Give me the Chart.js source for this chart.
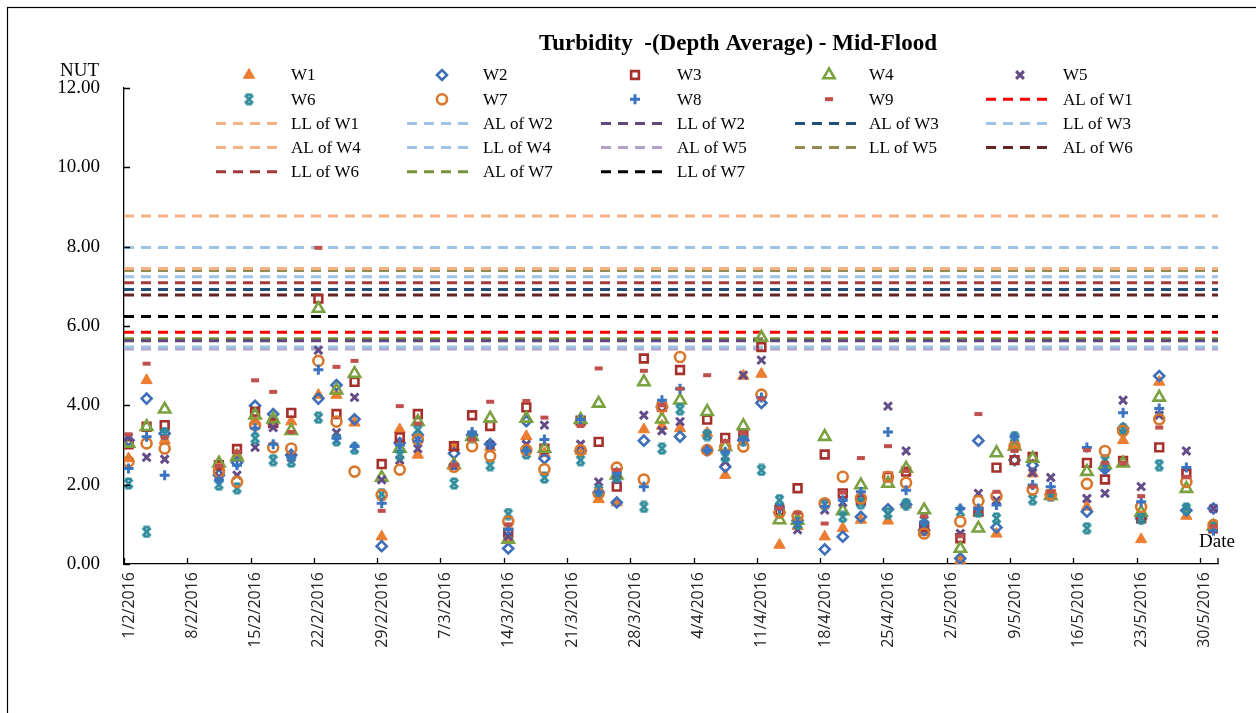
<!DOCTYPE html>
<html>
<head>
<meta charset="utf-8">
<title>Turbidity - Mid-Flood</title>
<script src="https://cdn.jsdelivr.net/npm/chart.js@4/dist/chart.umd.min.js"></script>
<style>
  html, body { margin: 0; padding: 0; background: #fff; }
  #chart { display: block; }
</style>
</head>
<body>
<canvas id="chart" width="1256" height="713"></canvas>
<script>
// sampling dates (d/m/yyyy) and the weekly axis labels
const sampleDates = [
  "1/2/2016", "3/2/2016", "5/2/2016", "11/2/2016", "13/2/2016", "15/2/2016", "17/2/2016", "19/2/2016",
  "22/2/2016", "24/2/2016", "26/2/2016", "29/2/2016", "2/3/2016", "4/3/2016", "8/3/2016", "10/3/2016",
  "12/3/2016", "14/3/2016", "16/3/2016", "18/3/2016", "22/3/2016", "24/3/2016", "26/3/2016", "29/3/2016",
  "31/3/2016", "2/4/2016", "5/4/2016", "7/4/2016", "9/4/2016", "11/4/2016", "13/4/2016", "15/4/2016",
  "18/4/2016", "20/4/2016", "22/4/2016", "25/4/2016", "27/4/2016", "29/4/2016", "3/5/2016", "5/5/2016",
  "7/5/2016", "9/5/2016", "11/5/2016", "13/5/2016", "17/5/2016", "19/5/2016", "21/5/2016", "23/5/2016",
  "25/5/2016", "28/5/2016", "31/5/2016"
];
const tickLabels = [
  "1/2/2016", "8/2/2016", "15/2/2016", "22/2/2016", "29/2/2016", "7/3/2016", "14/3/2016", "21/3/2016",
  "28/3/2016", "4/4/2016", "11/4/2016", "18/4/2016", "25/4/2016", "2/5/2016", "9/5/2016", "16/5/2016",
  "23/5/2016", "30/5/2016"
];
const axisEndDate = "1/6/2016";
const yTicks = [0, 2, 4, 6, 8, 10, 12];

// turbidity (NTU), one value per sampling date
const w1 = [2.66, 4.63, 3.12, 2.45, 2.75, 3.59, 3.59, 3.59, 4.26, 4.26, 3.56, 0.69, 3.39, 2.75, 2.95, 3.20, 2.94, 0.65, 3.22, 2.79, 2.85, 1.63, 1.55, 3.39, 3.48, 3.42, 3.30, 2.24, 4.74, 4.79, 0.48, 0.95, 0.69, 0.90, 1.11, 1.09, 1.50, 0.80, 0.10, 1.30, 0.76, 2.95, 2.28, 1.72, 1.44, 2.45, 3.12, 0.62, 4.59, 1.21, 0.95];
const w2 = [3.12, 4.17, 3.29, 2.24, 2.56, 3.99, 3.78, 2.75, 4.17, 4.51, 3.65, 0.45, 3.05, 3.25, 2.79, 3.25, 3.02, 0.39, 3.60, 2.66, 2.85, 1.80, 1.55, 3.11, 3.96, 3.21, 2.87, 2.45, 3.12, 4.06, 1.30, 1.10, 0.37, 0.69, 1.19, 1.38, 1.50, 0.85, 0.14, 3.11, 0.92, 2.62, 2.49, 1.75, 1.32, 2.40, 3.42, 1.15, 4.74, 1.35, 1.40];
const w3 = [3.02, 3.46, 3.50, 2.49, 2.90, 3.84, 3.55, 3.81, 6.69, 3.78, 4.59, 2.52, 3.19, 3.78, 2.97, 3.75, 3.48, 0.79, 3.95, 2.91, 3.61, 3.08, 1.95, 5.18, 3.96, 4.89, 3.64, 3.18, 3.27, 5.47, 1.36, 1.91, 2.76, 1.78, 1.61, 2.20, 2.33, 0.94, 0.65, 1.32, 2.43, 2.62, 2.70, 1.75, 2.55, 2.13, 2.60, 1.15, 2.94, 2.27, 0.90];
const w4 = [3.04, 3.46, 3.90, 2.54, 2.70, 3.75, 3.65, 3.36, 6.44, 4.38, 4.80, 2.18, 2.91, 3.59, 2.50, 3.21, 3.67, 0.62, 3.67, 2.91, 3.64, 4.05, 2.24, 4.59, 3.65, 4.13, 3.84, 2.96, 3.48, 5.71, 1.11, 1.10, 3.21, 1.34, 1.99, 2.03, 2.41, 1.36, 0.39, 0.90, 2.80, 2.97, 2.66, 1.72, 2.33, 2.50, 2.54, 1.30, 4.20, 1.90, 0.95];
const w5 = [3.19, 2.69, 2.64, 2.20, 2.24, 2.94, 3.44, 2.69, 5.39, 3.31, 4.20, 2.12, 2.62, 2.91, 2.45, 3.20, 3.00, 0.70, 3.02, 3.50, 3.02, 2.07, 2.13, 3.75, 3.36, 3.59, 3.25, 2.58, 4.76, 5.14, 1.44, 0.86, 1.36, 1.55, 1.55, 3.98, 2.85, 1.00, 0.77, 1.78, 1.60, 3.15, 2.30, 2.18, 1.65, 1.78, 4.13, 1.95, 3.75, 2.85, 1.40];
const w6 = [2.03, 0.81, 3.29, 2.00, 1.91, 3.17, 2.62, 2.58, 3.69, 3.12, 2.91, 1.76, 2.75, 3.38, 2.03, 3.20, 2.49, 1.26, 2.79, 2.18, 2.62, 1.85, 2.20, 1.44, 2.91, 3.90, 3.25, 2.70, 3.12, 2.37, 1.61, 1.01, 1.50, 1.19, 1.53, 1.28, 1.51, 1.10, 1.32, 1.32, 1.15, 3.20, 1.63, 1.72, 0.90, 2.62, 3.40, 1.15, 2.49, 1.40, 0.98];
const w7 = [2.58, 3.04, 2.91, 2.33, 2.07, 3.50, 2.94, 2.91, 5.12, 3.59, 2.33, 1.74, 2.38, 3.14, 2.45, 2.97, 2.72, 1.07, 2.87, 2.39, 2.87, 1.78, 2.43, 2.13, 3.96, 5.22, 2.87, 2.96, 2.96, 4.27, 1.30, 1.21, 1.53, 2.20, 1.65, 2.20, 2.05, 0.77, 1.07, 1.59, 1.71, 2.97, 1.88, 1.75, 2.02, 2.85, 3.36, 1.44, 3.65, 2.07, 0.98];
const w8 = [2.41, 3.21, 2.24, 2.12, 2.49, 3.42, 3.02, 2.70, 4.90, 3.17, 2.96, 1.53, 3.00, 3.10, 2.50, 3.33, 3.02, 0.87, 2.85, 3.14, 3.64, 1.82, 2.30, 1.95, 4.13, 4.42, 2.87, 2.83, 3.14, 4.20, 1.40, 1.05, 1.45, 1.61, 1.82, 3.33, 1.86, 1.05, 1.40, 1.40, 1.49, 3.21, 1.99, 1.95, 2.94, 2.37, 3.81, 1.57, 3.92, 2.43, 0.84];
const w9 = [3.27, 5.05, 3.19, 2.47, 2.83, 4.63, 4.34, 3.33, 7.97, 4.97, 5.12, 1.34, 3.98, 3.54, 2.49, 3.14, 4.09, 1.00, 4.11, 3.69, 3.48, 4.93, 2.37, 4.87, 4.00, 4.42, 4.76, 3.10, 3.30, 4.17, 1.40, 1.29, 1.02, 1.80, 2.67, 2.97, 2.35, 1.20, 0.70, 3.78, 1.82, 2.85, 1.95, 1.82, 2.87, 2.55, 2.55, 1.71, 3.44, 2.20, 0.95];

// action / limit levels, in legend order
const levelNames = ["AL of W1", "LL of W1", "AL of W2", "LL of W2", "AL of W3", "LL of W3", "AL of W4",
  "LL of W4", "AL of W5", "LL of W5", "AL of W6", "LL of W6", "AL of W7", "LL of W7"];
const levelValues = [5.84, 8.77, 5.47, 5.63, 6.92, 7.24, 7.45, 7.98, 5.42, 7.40, 6.78, 7.09, 5.68, 6.24];
const levelColors = ["#FF0000", "#F4B183", "#9DC3E6", "#604A7B", "#1F4E79", "#9DC3E6", "#F4B183",
  "#9DC3E6", "#B3A2C7", "#948A54", "#632523", "#A33A3A", "#77933C", "#000000"];

const SERIF = "'Liberation Serif', 'Times New Roman', serif";
const SANS = "'Open Sans', 'Noto Sans', sans-serif";

function dayOffset(s) {
  const [d, m, y] = s.split("/").map(Number);
  return (Date.UTC(y, m - 1, d) - Date.UTC(2016, 1, 1)) / 86400000;
}
const tickDays = tickLabels.map(dayOffset);
const xMax = dayOffset(axisEndDate);

// Excel "star" style marker for W6
function starMarker(color) {
  const c = document.createElement("canvas");
  c.width = 13; c.height = 13;
  const g = c.getContext("2d");
  g.strokeStyle = color;
  g.lineWidth = 2.8;
  g.beginPath();
  g.moveTo(2.5, 2.5); g.lineTo(10.5, 10.5);
  g.moveTo(10.5, 2.5); g.lineTo(2.5, 10.5);
  g.moveTo(3.5, 1.8); g.lineTo(9.5, 1.8);
  g.moveTo(3.5, 11.2); g.lineTo(9.5, 11.2);
  g.stroke();
  return c;
}

const markerSeries = [
  { label: "W1", data: w1, style: "triangle", color: "#ED7D31", fill: true, r: 6.5, bw: 1 },
  { label: "W2", data: w2, style: "rectRot", color: "#3F6EB8", fill: false, r: 5, bw: 2.6 },
  { label: "W3", data: w3, style: "rect", color: "#A5302C", fill: false, r: 5.5, bw: 2.6 },
  { label: "W4", data: w4, style: "triangle", color: "#7AA03F", fill: false, r: 6.5, bw: 2.6 },
  { label: "W5", data: w5, style: "crossRot", color: "#634C87", fill: false, r: 5.5, bw: 3 },
  { label: "W6", data: w6, style: starMarker("#2E8B9B"), color: "#2E8B9B", fill: false, r: 6, bw: 2 },
  { label: "W7", data: w7, style: "circle", color: "#D9782D", fill: false, r: 5, bw: 2.6 },
  { label: "W8", data: w8, style: "cross", color: "#3B74C0", fill: false, r: 5, bw: 3 },
  { label: "W9", data: w9, style: "line", color: "#C0504D", fill: false, r: 4, bw: 4 },
];

const datasets = [];
markerSeries.forEach((s, i) => {
  datasets.push({
    type: "scatter",
    label: s.label,
    data: sampleDates.map((d, k) => ({ x: dayOffset(d) + 0.5, y: s.data[k] })),
    pointStyle: s.style,
    pointRadius: s.r,
    pointBorderWidth: s.bw,
    borderColor: s.color,
    backgroundColor: s.fill ? s.color : "rgba(255,255,255,0)",
    showLine: false,
    order: 20 - i,
  });
});
levelNames.forEach((name, i) => {
  datasets.push({
    type: "line",
    label: name,
    data: [{ x: 0, y: levelValues[i] }, { x: xMax, y: levelValues[i] }],
    borderColor: levelColors[i],
    borderWidth: 3,
    borderDash: [10, 7],
    pointRadius: 0,
    fill: false,
    order: 100 + i,
  });
});

// legend grid positions (5 columns)
const LEG_MARK_X = [249, 442, 635, 829, 1020];
const LEG_LINE_X = [216, 407, 601, 795, 986];
const LEG_TEXT_X = [291, 483, 677, 869, 1063];
const LEG_ROW_Y = 75;
const LEG_ROW_H = 24.2;

const decor = {
  id: "decor",
  beforeDraw(chart) {
    const ctx = chart.ctx;
    ctx.save();
    ctx.fillStyle = "#fff";
    ctx.fillRect(0, 0, chart.width, chart.height);
    ctx.restore();
  },
  afterDraw(chart) {
    const ctx = chart.ctx;
    const xs = chart.scales.x, ys = chart.scales.y;
    const area = chart.chartArea;
    ctx.save();

    // outer frame
    ctx.strokeStyle = "#000";
    ctx.lineWidth = 1.2;
    ctx.strokeRect(7.5, 7.5, chart.width + 20, chart.height + 20);

    // inside tick marks
    ctx.lineWidth = 1.3;
    ctx.beginPath();
    tickDays.forEach(v => {
      const px = Math.round(xs.getPixelForValue(v)) + 0.5;
      ctx.moveTo(px, area.bottom);
      ctx.lineTo(px, area.bottom - 6);
    });
    ctx.moveTo(xs.getPixelForValue(xMax), area.bottom);
    ctx.lineTo(xs.getPixelForValue(xMax), area.bottom - 6);
    yTicks.forEach(v => {
      const py = Math.round(ys.getPixelForValue(v)) + 0.5;
      ctx.moveTo(area.left, py);
      ctx.lineTo(area.left + 6, py);
    });
    ctx.stroke();

    // title and axis names
    ctx.fillStyle = "#000";
    ctx.font = "bold 23px " + SERIF;
    ctx.textAlign = "center";
    ctx.textBaseline = "middle";
    ctx.fillText("Turbidity  -(Depth Average) - Mid-Flood", 738, 44);
    ctx.font = "19px " + SERIF;
    ctx.textAlign = "right";
    ctx.fillText("NUT", 99, 71);
    ctx.textAlign = "left";
    ctx.fillText("Date", 1199, 542);

    // legend
    ctx.font = "17px " + SERIF;
    chart.data.datasets.forEach((ds, i) => {
      const col = i % 5, row = Math.floor(i / 5);
      const y = LEG_ROW_Y + row * LEG_ROW_H;
      ctx.save();
      if (ds.type === "line") {
        ctx.strokeStyle = ds.borderColor;
        ctx.lineWidth = 3;
        ctx.setLineDash([10, 7]);
        ctx.beginPath();
        ctx.moveTo(LEG_LINE_X[col], y);
        ctx.lineTo(LEG_LINE_X[col] + 63, y);
        ctx.stroke();
      } else {
        ctx.strokeStyle = ds.borderColor;
        ctx.fillStyle = ds.backgroundColor;
        ctx.lineWidth = ds.pointBorderWidth;
        Chart.helpers.drawPoint(ctx, {
          pointStyle: ds.pointStyle, rotation: 0,
          radius: ds.pointRadius, borderWidth: ds.pointBorderWidth
        }, LEG_MARK_X[col], y);
      }
      ctx.restore();
      ctx.fillStyle = "#000";
      ctx.textAlign = "left";
      ctx.textBaseline = "middle";
      ctx.fillText(ds.label, LEG_TEXT_X[col], y + 1);
    });
    ctx.restore();
  }
};

new Chart(document.getElementById("chart"), {
  type: "scatter",
  data: { datasets },
  options: {
    responsive: false,
    animation: false,
    layout: { padding: { left: 0, top: 88, right: 38, bottom: 0 } },
    scales: {
      x: {
        type: "linear",
        min: 0,
        max: xMax,
        afterBuildTicks: s => { s.ticks = tickDays.map(v => ({ value: v })); },
        afterFit: s => { s.height = 149; },
        ticks: {
          autoSkip: false,
          minRotation: 90,
          maxRotation: 90,
          padding: 8,
          labelOffset: 5,
          color: "#222",
          font: { family: SANS, size: 16 },
          callback: v => tickLabels[tickDays.indexOf(v)] || "",
        },
        grid: { drawOnChartArea: false, drawTicks: false },
        border: { color: "#000", width: 1.3 },
      },
      y: {
        min: 0,
        max: 12,
        afterBuildTicks: s => { s.ticks = yTicks.map(v => ({ value: v })); },
        afterFit: s => { s.width = 124; },
        ticks: {
          padding: 24,
          color: "#000",
          font: { family: SERIF, size: 19 },
          callback: v => Number(v).toFixed(2),
        },
        grid: { drawOnChartArea: false, drawTicks: false },
        border: { color: "#000", width: 1.3 },
      },
    },
    plugins: {
      legend: { display: false },
      title: { display: false },
      tooltip: { enabled: false },
    },
  },
  plugins: [decor],
});
</script>
</body>
</html>
